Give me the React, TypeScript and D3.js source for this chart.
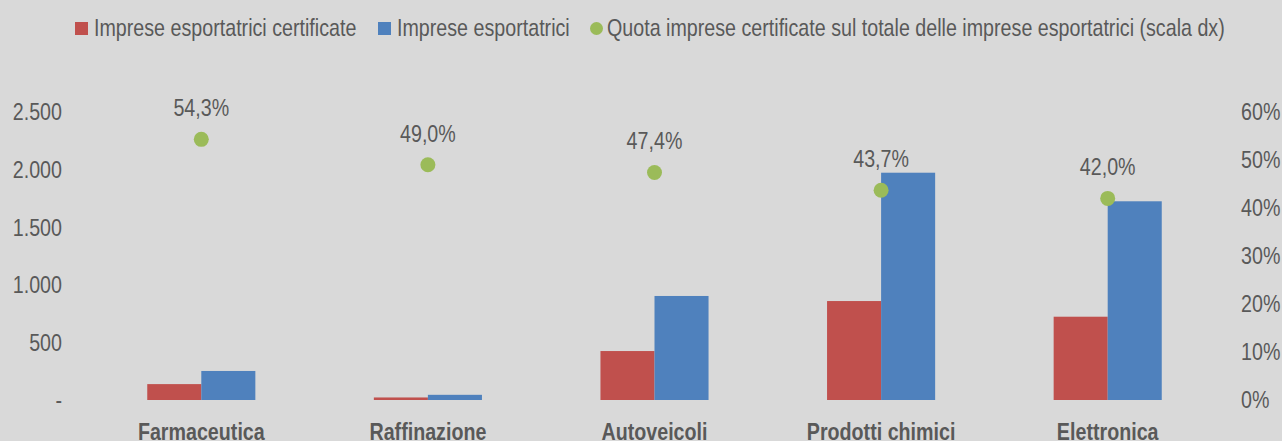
import * as d3 from 'd3'

// values
const categories = ['Farmaceutica', 'Raffinazione', 'Autoveicoli', 'Prodotti chimici', 'Elettronica']
const certificate = [138, 22, 425, 859, 723]
const esportatrici = [252, 45, 903, 1973, 1725]
const quota = [0.543, 0.49, 0.474, 0.437, 0.42]
const leftTicks = [0, 500, 1000, 1500, 2000, 2500]
const rightTicks = [0, 0.1, 0.2, 0.3, 0.4, 0.5, 0.6]

const series = ['Imprese esportatrici certificate', 'Imprese esportatrici']
const quotaLabel = 'Quota imprese certificate sul totale delle imprese esportatrici (scala dx)'

const W = 1282
const H = 441
const RED = '#c0504d'
const BLUE = '#4f81bd'
const GREEN = '#9bbb59'
const TEXT = '#595959'
const FONT = "'Liberation Sans', Arial, sans-serif"
const NARROW = 0.82 // squeeze Liberation Sans to look like Arial Narrow

type NProps = {
  x: number
  y: number
  anchor?: 'start' | 'middle' | 'end'
  size?: number
  bold?: boolean
  dy?: string
  children: React.ReactNode
}

// narrow text: scaled horizontally around its anchor point
function NText({ x, y, anchor = 'start', size = 24, bold = false, dy, children }: NProps) {
  return (
    <text
      transform={`translate(${x},${y}) scale(${NARROW},1)`}
      textAnchor={anchor}
      dy={dy}
      fontSize={size}
      fontWeight={bold ? 'bold' : 'normal'}
      fill={TEXT}
    >
      {children}
    </text>
  )
}

export default function App() {
  const x = d3.scaleBand<string>()
    .domain(categories)
    .range([88, 1221])
    .paddingInner(0.523)
    .paddingOuter(0.2615)

  const x1 = d3.scaleBand<string>()
    .domain(series)
    .range([0, x.bandwidth()])

  const yL = d3.scaleLinear().domain([0, 2500]).range([400, 112])
  const yR = d3.scaleLinear().domain([0, 0.6]).range([400, 112])

  const fmtL = (v: number) => (v === 0 ? '-' : d3.format(',')(v).replace(/,/g, '.'))
  const fmtR = (v: number) => `${Math.round(v * 100)}%`
  const fmtQ = (v: number) => `${(v * 100).toFixed(1).replace('.', ',')}%`

  const values = [certificate, esportatrici]
  const colors = [RED, BLUE]

  // legend positions
  const legend = [
    { x: 75, tx: 94, label: series[0], color: RED, shape: 'rect' },
    { x: 378, tx: 397, label: series[1], color: BLUE, shape: 'rect' },
    { x: 590, tx: 607, label: quotaLabel, color: GREEN, shape: 'circle' },
  ]

  return (
    <svg
      width={W}
      height={H}
      style={{ position: 'absolute', left: 0, top: 0, background: '#d9d9d9' }}
      fontFamily={FONT}
    >
      <rect width={W} height={H} fill="#d9d9d9" />

      {/* legend */}
      {legend.map((l, i) => (
        <g key={i}>
          {l.shape === 'rect'
            ? <rect x={l.x} y={22} width={13} height={13} fill={l.color} />
            : <circle cx={l.x + 6.5} cy={28.5} r={6.5} fill={l.color} />}
          <NText x={l.tx} y={36}>{l.label}</NText>
        </g>
      ))}

      {/* left axis */}
      {leftTicks.map(t => (
        <NText key={t} x={62} y={yL(t)} dy="0.35em" anchor="end">{fmtL(t)}</NText>
      ))}

      {/* right axis */}
      {rightTicks.map(t => (
        <NText key={t} x={1241} y={yR(t)} dy="0.35em">{fmtR(t)}</NText>
      ))}

      {/* bars */}
      {categories.map((c, i) => (
        <g key={c} transform={`translate(${x(c)},0)`}>
          {series.map((s, j) => (
            <rect
              key={s}
              x={x1(s)}
              y={yL(values[j][i])}
              width={x1.bandwidth()}
              height={yL(0) - yL(values[j][i])}
              fill={colors[j]}
            />
          ))}
        </g>
      ))}

      {/* quota dots and labels */}
      {categories.map((c, i) => {
        const cx = (x(c) ?? 0) + x.bandwidth() / 2
        const cy = yR(quota[i])
        return (
          <g key={c}>
            <circle cx={cx} cy={cy} r={7.5} fill={GREEN} />
            <NText x={cx} y={cy - 23} anchor="middle">{fmtQ(quota[i])}</NText>
          </g>
        )
      })}

      {/* category labels */}
      {categories.map(c => (
        <NText key={c} x={(x(c) ?? 0) + x.bandwidth() / 2} y={440} anchor="middle" bold>
          {c}
        </NText>
      ))}
    </svg>
  )
}
